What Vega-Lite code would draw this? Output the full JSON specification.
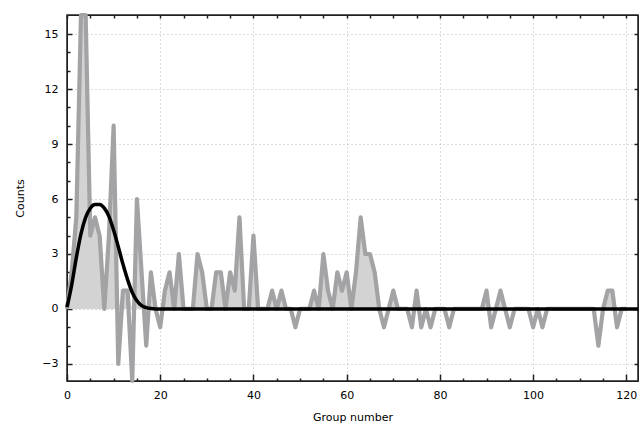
{
  "$schema": "https://vega.github.io/schema/vega-lite/v6.json",
  "width": 571,
  "height": 366,
  "autosize": {"type": "none"},
  "padding": {"left": 67, "top": 15, "right": 3, "bottom": 44},
  "background": "white",
  "config": {
    "view": {"stroke": "#202020", "strokeWidth": 1.5},
    "axis": {
      "labelFont": "DejaVu Sans",
      "titleFont": "DejaVu Sans",
      "labelFontSize": 11,
      "titleFontSize": 11,
      "titleFontWeight": "normal",
      "labelColor": "black",
      "titleColor": "black",
      "domainColor": "#202020",
      "gridColor": "#b8b8b8",
      "gridDash": [1, 3],
      "gridWidth": 1
    }
  },
  "datasets": {
    "counts": [
      {"group": 0, "count": 0, "fill": 0}, {"group": 1, "count": 2, "fill": 2}, {"group": 2, "count": 5, "fill": 5},
      {"group": 3, "count": 20, "fill": 20}, {"group": 4, "count": 17, "fill": 17}, {"group": 5, "count": 4, "fill": 4},
      {"group": 6, "count": 5, "fill": 5}, {"group": 7, "count": 4, "fill": 4}, {"group": 8, "count": 0, "fill": 0},
      {"group": 9, "count": 4, "fill": 4}, {"group": 10, "count": 10, "fill": 10}, {"group": 11, "count": -3, "fill": 0},
      {"group": 12, "count": 1, "fill": 1}, {"group": 13, "count": 1, "fill": 1}, {"group": 14, "count": -4, "fill": 0},
      {"group": 15, "count": 6, "fill": 6}, {"group": 16, "count": 2, "fill": 2}, {"group": 17, "count": -2, "fill": 0},
      {"group": 18, "count": 2, "fill": 2}, {"group": 19, "count": 0, "fill": 0}, {"group": 20, "count": -1, "fill": 0},
      {"group": 21, "count": 1, "fill": 1}, {"group": 22, "count": 2, "fill": 2}, {"group": 23, "count": 0, "fill": 0},
      {"group": 24, "count": 3, "fill": 3}, {"group": 25, "count": 0, "fill": 0}, {"group": 26, "count": 0, "fill": 0},
      {"group": 27, "count": 0, "fill": 0}, {"group": 28, "count": 3, "fill": 3}, {"group": 29, "count": 2, "fill": 2},
      {"group": 30, "count": 0, "fill": 0}, {"group": 31, "count": 0, "fill": 0}, {"group": 32, "count": 2, "fill": 2},
      {"group": 33, "count": 2, "fill": 2}, {"group": 34, "count": 0, "fill": 0}, {"group": 35, "count": 2, "fill": 2},
      {"group": 36, "count": 1, "fill": 1}, {"group": 37, "count": 5, "fill": 5}, {"group": 38, "count": 0, "fill": 0},
      {"group": 39, "count": 0, "fill": 0}, {"group": 40, "count": 4, "fill": 4}, {"group": 41, "count": 0, "fill": 0},
      {"group": 42, "count": 0, "fill": 0}, {"group": 43, "count": 0, "fill": 0}, {"group": 44, "count": 1, "fill": 1},
      {"group": 45, "count": 0, "fill": 0}, {"group": 46, "count": 1, "fill": 1}, {"group": 47, "count": 0, "fill": 0},
      {"group": 48, "count": 0, "fill": 0}, {"group": 49, "count": -1, "fill": 0}, {"group": 50, "count": 0, "fill": 0},
      {"group": 51, "count": 0, "fill": 0}, {"group": 52, "count": 0, "fill": 0}, {"group": 53, "count": 1, "fill": 1},
      {"group": 54, "count": 0, "fill": 0}, {"group": 55, "count": 3, "fill": 3}, {"group": 56, "count": 1, "fill": 1},
      {"group": 57, "count": 0, "fill": 0}, {"group": 58, "count": 2, "fill": 2}, {"group": 59, "count": 1, "fill": 1},
      {"group": 60, "count": 2, "fill": 2}, {"group": 61, "count": 0, "fill": 0}, {"group": 62, "count": 2, "fill": 2},
      {"group": 63, "count": 5, "fill": 5}, {"group": 64, "count": 3, "fill": 3}, {"group": 65, "count": 3, "fill": 3},
      {"group": 66, "count": 2, "fill": 2}, {"group": 67, "count": 0, "fill": 0}, {"group": 68, "count": -1, "fill": 0},
      {"group": 69, "count": 0, "fill": 0}, {"group": 70, "count": 1, "fill": 1}, {"group": 71, "count": 0, "fill": 0},
      {"group": 72, "count": 0, "fill": 0}, {"group": 73, "count": 0, "fill": 0}, {"group": 74, "count": -1, "fill": 0},
      {"group": 75, "count": 1, "fill": 1}, {"group": 76, "count": -1, "fill": 0}, {"group": 77, "count": 0, "fill": 0},
      {"group": 78, "count": -1, "fill": 0}, {"group": 79, "count": 0, "fill": 0}, {"group": 80, "count": 0, "fill": 0},
      {"group": 81, "count": 0, "fill": 0}, {"group": 82, "count": -1, "fill": 0}, {"group": 83, "count": 0, "fill": 0},
      {"group": 84, "count": 0, "fill": 0}, {"group": 85, "count": 0, "fill": 0}, {"group": 86, "count": 0, "fill": 0},
      {"group": 87, "count": 0, "fill": 0}, {"group": 88, "count": 0, "fill": 0}, {"group": 89, "count": 0, "fill": 0},
      {"group": 90, "count": 1, "fill": 1}, {"group": 91, "count": -1, "fill": 0}, {"group": 92, "count": 0, "fill": 0},
      {"group": 93, "count": 1, "fill": 1}, {"group": 94, "count": 0, "fill": 0}, {"group": 95, "count": -1, "fill": 0},
      {"group": 96, "count": 0, "fill": 0}, {"group": 97, "count": 0, "fill": 0}, {"group": 98, "count": 0, "fill": 0},
      {"group": 99, "count": 0, "fill": 0}, {"group": 100, "count": -1, "fill": 0}, {"group": 101, "count": 0, "fill": 0},
      {"group": 102, "count": -1, "fill": 0}, {"group": 103, "count": 0, "fill": 0}, {"group": 104, "count": 0, "fill": 0},
      {"group": 105, "count": 0, "fill": 0}, {"group": 106, "count": 0, "fill": 0}, {"group": 107, "count": 0, "fill": 0},
      {"group": 108, "count": 0, "fill": 0}, {"group": 109, "count": 0, "fill": 0}, {"group": 110, "count": 0, "fill": 0},
      {"group": 111, "count": 0, "fill": 0}, {"group": 112, "count": 0, "fill": 0}, {"group": 113, "count": 0, "fill": 0},
      {"group": 114, "count": -2, "fill": 0}, {"group": 115, "count": 0, "fill": 0}, {"group": 116, "count": 1, "fill": 1},
      {"group": 117, "count": 1, "fill": 1}, {"group": 118, "count": -1, "fill": 0}, {"group": 119, "count": 0, "fill": 0},
      {"group": 120, "count": 0, "fill": 0}
    ],
    "fit": [
      {"group": 0, "value": 0.1}, {"group": 1, "value": 1.3}, {"group": 2, "value": 2.8}, {"group": 3, "value": 4.1},
      {"group": 4, "value": 5.0}, {"group": 5, "value": 5.5}, {"group": 6, "value": 5.7}, {"group": 7, "value": 5.7},
      {"group": 8, "value": 5.5}, {"group": 9, "value": 5.05}, {"group": 10, "value": 4.3}, {"group": 11, "value": 3.4},
      {"group": 12, "value": 2.45}, {"group": 13, "value": 1.6}, {"group": 14, "value": 0.9}, {"group": 15, "value": 0.45},
      {"group": 16, "value": 0.18}, {"group": 17, "value": 0.07}, {"group": 18, "value": 0.02}, {"group": 19, "value": 0},
      {"group": 20, "value": 0}, {"group": 60, "value": 0}, {"group": 122.5, "value": 0}
    ]
  },
  "resolve": {"axis": {"x": "independent", "y": "independent"}},
  "layer": [
    {
      "data": {"name": "counts"},
      "mark": {"type": "area", "color": "#d3d3d3"},
      "encoding": {
        "x": {
          "field": "group", "type": "quantitative",
          "scale": {"domain": [0, 122.5], "nice": false, "zero": false},
          "axis": {"orient": "bottom", "title": "Group number", "values": [0, 20, 40, 60, 80, 100, 120],
                   "tickSize": -7, "tickColor": "#202020", "tickWidth": 1.5, "labelPadding": 15, "titlePadding": 11, "labelFlush": false}
        },
        "y": {
          "field": "fill", "type": "quantitative",
          "scale": {"domain": [-3.93, 16.04], "nice": false, "zero": false, "clamp": true},
          "axis": {"orient": "left", "title": "Counts", "values": [-3, 0, 3, 6, 9, 12, 15],
                   "tickSize": -5, "tickColor": "#202020", "tickWidth": 1.5, "labelPadding": 14, "titlePadding": 16}
        },
        "y2": {"datum": 0}
      }
    },
    {
      "data": {"name": "counts"},
      "mark": {"type": "line", "color": "#a3a3a6", "strokeWidth": 4.2, "strokeJoin": "round"},
      "encoding": {
        "x": {
          "field": "group", "type": "quantitative",
          "axis": {"orient": "bottom", "title": null, "labels": false, "grid": false, "domain": false,
                   "tickColor": "#202020", "tickWidth": 1.5,
                   "values": [5, 10, 15, 25, 30, 35, 45, 50, 55, 65, 70, 75, 85, 90, 95, 105, 110, 115], "tickSize": -3}
        },
        "y": {
          "field": "count", "type": "quantitative",
          "axis": {"orient": "left", "title": null, "labels": false, "grid": false, "domain": false,
                   "tickColor": "#202020", "tickWidth": 1.5,
                   "values": [-2, -1, 1, 2, 4, 5, 7, 8, 10, 11, 13, 14], "tickSize": -3}
        }
      }
    },
    {
      "data": {"name": "fit"},
      "mark": {"type": "line", "color": "#000000", "strokeWidth": 3.5, "interpolate": "monotone"},
      "encoding": {
        "x": {
          "field": "group", "type": "quantitative",
          "axis": {"orient": "top", "title": null, "labels": false, "grid": false, "tickColor": "#202020", "tickWidth": 1.5,
                   "values": [0, 5, 10, 15, 20, 25, 30, 35, 40, 45, 50, 55, 60, 65, 70, 75, 80, 85, 90, 95, 100, 105, 110, 115, 120], "tickSize": -3}
        },
        "y": {
          "field": "value", "type": "quantitative",
          "axis": {"orient": "right", "title": null, "labels": false, "grid": false, "tickColor": "#202020", "tickWidth": 1.5,
                   "values": [-3, 0, 3, 6, 9, 12, 15], "tickSize": -4}
        }
      }
    }
  ]
}
